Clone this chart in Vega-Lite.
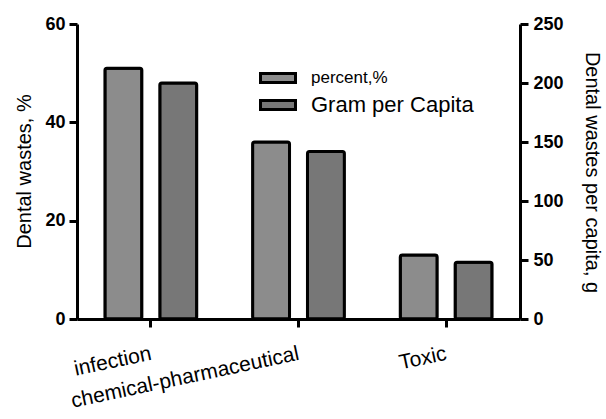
{
  "$schema": "https://vega.github.io/schema/vega-lite/v6.json",
  "autosize": {"type": "none"},
  "padding": {"left": 77, "top": 24, "right": 86, "bottom": 100},
  "width": 443,
  "height": 295,
  "background": "white",
  "config": {
    "view": {"stroke": null},
    "font": "Liberation Sans",
    "axis": {
      "grid": false,
      "domainColor": "black",
      "domainWidth": 3,
      "tickColor": "black",
      "tickWidth": 3,
      "tickSize": 8,
      "labelColor": "black",
      "titleColor": "black",
      "labelFont": "Liberation Sans",
      "titleFont": "Liberation Sans"
    },
    "axisY": {"labelFontWeight": 700, "labelFontSize": 18},
    "legend": {
      "orient": "none",
      "legendX": 190,
      "legendY": 43,
      "symbolStrokeColor": "black",
      "symbolStrokeWidth": 3,
      "symbolOpacity": 1,
      "labelOffset": 22,
      "labelFontSize": 20,
      "labelLimit": 400,
      "labelColor": "black",
      "labelFont": "Liberation Sans",
      "rowPadding": 5
    }
  },
  "data": {
    "values": [
      {"cat": "infection", "series": "percent,%", "value": 51},
      {"cat": "infection", "series": "Gram per Capita", "value": 200},
      {"cat": "chemical-pharmaceutical", "series": "percent,%", "value": 36},
      {"cat": "chemical-pharmaceutical", "series": "Gram per Capita", "value": 142},
      {"cat": "Toxic", "series": "percent,%", "value": 13},
      {"cat": "Toxic", "series": "Gram per Capita", "value": 48}
    ]
  },
  "encoding": {
    "x": {
      "field": "cat",
      "type": "nominal",
      "sort": ["infection", "chemical-pharmaceutical", "Toxic"],
      "scale": {"paddingInner": 0, "paddingOuter": 0},
      "axis": {"title": null, "labels": false}
    }
  },
  "layer": [
    {
      "transform": [{"filter": "datum.series === 'percent,%'"}],
      "mark": {"type": "bar", "stroke": "black", "strokeWidth": 3, "cornerRadius": 2},
      "encoding": {
        "xOffset": {
          "field": "series",
          "type": "nominal",
          "scale": {"domain": ["percent,%", "Gram per Capita"], "paddingInner": 0.327, "paddingOuter": 0.509}
        },
        "fill": {
          "field": "series",
          "type": "nominal",
          "scale": {"domain": ["percent,%", "Gram per Capita"], "range": ["#8c8c8c", "#777777"]},
          "legend": {
            "title": null,
            "symbolType": "M-3.5,-0.9L3.5,-0.9L3.5,0.9L-3.5,0.9Z",
            "symbolSize": 100,
            "encode": {
              "labels": {"update": {"fontSize": {"signal": "datum.label === 'percent,%' ? 17 : 22"}}}
            }
          }
        },
        "y": {
          "field": "value",
          "type": "quantitative",
          "scale": {"domain": [0, 60], "nice": false},
          "axis": {
            "orient": "left",
            "values": [0, 20, 40, 60],
            "labelFontSize": 18,
            "labelFontWeight": "bold",
            "labelPadding": 4,
            "title": "Dental wastes, %",
            "titleFontSize": 20,
            "titleFontWeight": "normal",
            "titleAngle": -90,
            "titleX": -47,
            "titleY": 147,
            "titleAlign": "center",
            "titleBaseline": "alphabetic"
          }
        }
      }
    },
    {
      "transform": [{"filter": "datum.series === 'Gram per Capita'"}],
      "mark": {"type": "bar", "stroke": "black", "strokeWidth": 3, "cornerRadius": 2},
      "encoding": {
        "xOffset": {
          "field": "series",
          "type": "nominal",
          "scale": {"domain": ["percent,%", "Gram per Capita"], "paddingInner": 0.327, "paddingOuter": 0.509}
        },
        "fill": {
          "field": "series",
          "type": "nominal",
          "scale": {"domain": ["percent,%", "Gram per Capita"], "range": ["#8c8c8c", "#777777"]},
          "legend": {
            "title": null,
            "symbolType": "M-3.5,-0.9L3.5,-0.9L3.5,0.9L-3.5,0.9Z",
            "symbolSize": 100,
            "encode": {
              "labels": {"update": {"fontSize": {"signal": "datum.label === 'percent,%' ? 17 : 22"}}}
            }
          }
        },
        "y": {
          "field": "value",
          "type": "quantitative",
          "scale": {"domain": [0, 250], "nice": false},
          "axis": {
            "orient": "right",
            "values": [0, 50, 100, 150, 200, 250],
            "labelFontSize": 18,
            "labelFontWeight": "bold",
            "labelPadding": 5,
            "title": "Dental wastes per capita, g",
            "titleFontSize": 20,
            "titleFontWeight": "normal",
            "titleAngle": 90,
            "titleX": 65,
            "titleY": 148,
            "titleAlign": "center",
            "titleBaseline": "alphabetic"
          }
        }
      }
    },
    {
      "transform": [{"filter": "datum.series === 'percent,%'"}],
      "mark": {
        "type": "text",
        "angle": 348,
        "align": "right",
        "baseline": "top",
        "dy": 23,
        "dx": -7,
        "fontSize": 21,
        "font": "Liberation Sans",
        "color": "black"
      },
      "encoding": {
        "text": {"field": "cat"},
        "y": {"datum": 0, "scale": {"domain": [0, 60], "nice": false}, "axis": null}
      }
    }
  ],
  "resolve": {"scale": {"y": "independent"}}
}
